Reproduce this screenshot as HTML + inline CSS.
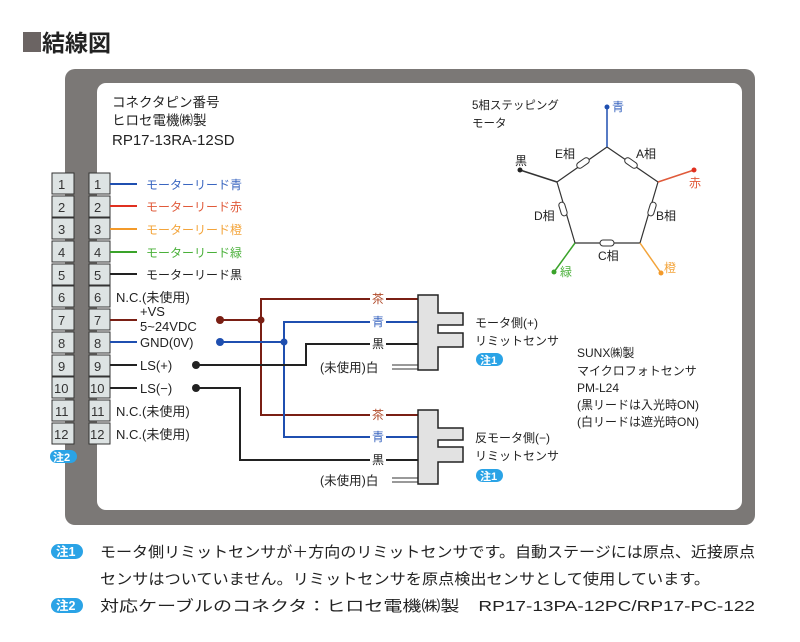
<!DOCTYPE html>
<html><head><meta charset="utf-8"><style>
html,body{margin:0;padding:0;background:#fff;}
svg{display:block;font-family:"Liberation Sans","Noto Sans CJK JP",sans-serif;}
</style></head><body>
<svg width="800" height="642" viewBox="0 0 800 642" xmlns="http://www.w3.org/2000/svg">
<rect x="0" y="0" width="800" height="642" fill="#fff"/>
<!-- title -->
<rect x="23" y="32" width="18" height="20" fill="#6b6463"/>
<text x="42" y="51" font-size="23" font-weight="bold" fill="#222">結線図</text>
<!-- frame -->
<rect x="65" y="69" width="690" height="456" rx="10" fill="#7b7876"/>
<rect x="97" y="83" width="645" height="427" rx="9" fill="#fff"/>
<!-- header -->
<g font-size="13.5" fill="#222">
<text x="112" y="107">コネクタピン番号</text>
<text x="112" y="125">ヒロセ電機㈱製</text>
<text x="112" y="145" font-size="15">RP17-13RA-12SD</text>
</g>
<!-- terminals -->
<g font-size="13" fill="#333" stroke="#333" stroke-width="1.2">
<g id="t">
</g>
</g>
<g font-size="13" fill="#333">
<!-- generated rows -->
<rect x="52" y="173" width="22" height="21" fill="#dde3e3" stroke="#333"/><text x="58" y="189">1</text><rect x="89" y="173" width="21" height="21" fill="#dde3e3" stroke="#333"/><text x="94" y="189">1</text>
<rect x="52" y="196" width="22" height="21" fill="#dde3e3" stroke="#333"/><text x="58" y="212">2</text><rect x="89" y="196" width="21" height="21" fill="#dde3e3" stroke="#333"/><text x="94" y="212">2</text>
<rect x="52" y="218" width="22" height="21" fill="#dde3e3" stroke="#333"/><text x="58" y="234">3</text><rect x="89" y="218" width="21" height="21" fill="#dde3e3" stroke="#333"/><text x="94" y="234">3</text>
<rect x="52" y="241" width="22" height="21" fill="#dde3e3" stroke="#333"/><text x="58" y="257">4</text><rect x="89" y="241" width="21" height="21" fill="#dde3e3" stroke="#333"/><text x="94" y="257">4</text>
<rect x="52" y="264" width="22" height="21" fill="#dde3e3" stroke="#333"/><text x="58" y="280">5</text><rect x="89" y="264" width="21" height="21" fill="#dde3e3" stroke="#333"/><text x="94" y="280">5</text>
<rect x="52" y="286" width="22" height="21" fill="#dde3e3" stroke="#333"/><text x="58" y="302">6</text><rect x="89" y="286" width="21" height="21" fill="#dde3e3" stroke="#333"/><text x="94" y="302">6</text>
<rect x="52" y="309" width="22" height="21" fill="#dde3e3" stroke="#333"/><text x="58" y="325">7</text><rect x="89" y="309" width="21" height="21" fill="#dde3e3" stroke="#333"/><text x="94" y="325">7</text>
<rect x="52" y="332" width="22" height="21" fill="#dde3e3" stroke="#333"/><text x="58" y="348">8</text><rect x="89" y="332" width="21" height="21" fill="#dde3e3" stroke="#333"/><text x="94" y="348">8</text>
<rect x="52" y="355" width="22" height="21" fill="#dde3e3" stroke="#333"/><text x="58" y="371">9</text><rect x="89" y="355" width="21" height="21" fill="#dde3e3" stroke="#333"/><text x="94" y="371">9</text>
<rect x="52" y="377" width="22" height="21" fill="#dde3e3" stroke="#333"/><text x="54" y="393">10</text><rect x="89" y="377" width="21" height="21" fill="#dde3e3" stroke="#333"/><text x="90" y="393">10</text>
<rect x="52" y="400" width="22" height="21" fill="#dde3e3" stroke="#333"/><text x="55" y="416">11</text><rect x="89" y="400" width="21" height="21" fill="#dde3e3" stroke="#333"/><text x="91" y="416">11</text>
<rect x="52" y="423" width="22" height="21" fill="#dde3e3" stroke="#333"/><text x="54" y="439">12</text><rect x="89" y="423" width="21" height="21" fill="#dde3e3" stroke="#333"/><text x="90" y="439">12</text>
</g>
<rect x="50" y="450" width="27" height="13" rx="6.5" fill="#2aa3e6"/><text x="53" y="461" font-size="11" fill="#fff" font-weight="bold">注2</text>
<!-- motor lead wires -->
<g stroke-width="2">
<line x1="110" y1="184" x2="137" y2="184" stroke="#1f4fb0"/>
<line x1="110" y1="206" x2="137" y2="206" stroke="#e03020"/>
<line x1="110" y1="229" x2="137" y2="229" stroke="#f39a2a"/>
<line x1="110" y1="252" x2="137" y2="252" stroke="#3aa32a"/>
<line x1="110" y1="274" x2="137" y2="274" stroke="#222"/>
</g>
<g font-size="12">
<text x="146" y="189" fill="#3a66c0">モーターリード青</text>
<text x="146" y="211" fill="#e05a3a">モーターリード赤</text>
<text x="146" y="234" fill="#f3a43a">モーターリード橙</text>
<text x="146" y="257" fill="#4ab03a">モーターリード緑</text>
<text x="146" y="279" fill="#222">モーターリード黒</text>
</g>
<g font-size="13" fill="#222">
<text x="116" y="302">N.C.(未使用)</text>
<text x="140" y="316">+VS</text>
<text x="140" y="331">5~24VDC</text>
<text x="140" y="347">GND(0V)</text>
<text x="140" y="370">LS(+)</text>
<text x="140" y="393">LS(−)</text>
<text x="116" y="416">N.C.(未使用)</text>
<text x="116" y="439">N.C.(未使用)</text>
</g>
<g stroke-width="2" fill="none">
<line x1="110" y1="320" x2="137" y2="320" stroke="#7a1f14"/>
<line x1="110" y1="342" x2="137" y2="342" stroke="#1f4fb0"/>
<line x1="110" y1="365" x2="137" y2="365" stroke="#222"/>
<line x1="110" y1="388" x2="137" y2="388" stroke="#222"/>
<!-- brown -->
<path d="M220 320 H261 M418 299 H261 V415 H418" stroke="#7a1f14"/>
<!-- blue -->
<path d="M220 342 H284 M418 322 H284 V437 H418" stroke="#1f4fb0"/>
<!-- black -->
<path d="M196 365 H306 V344 H418" stroke="#222"/>
<path d="M196 388 H240 V460 H418" stroke="#222"/>
<!-- white -->
<path d="M392 365 H418 M392 369 H418" stroke="#333" stroke-width="1"/>
<path d="M392 478 H418 M392 482 H418" stroke="#333" stroke-width="1"/>
</g>
<circle cx="220" cy="320" r="4" fill="#7a1f14"/><circle cx="261" cy="320" r="3.5" fill="#7a1f14"/>
<circle cx="220" cy="342" r="4" fill="#1f4fb0"/><circle cx="284" cy="342" r="3.5" fill="#1f4fb0"/>
<circle cx="196" cy="365" r="4" fill="#222"/><circle cx="196" cy="388" r="4" fill="#222"/>
<!-- wire labels -->
<g font-size="12">
<rect x="370" y="291" width="16" height="15" fill="#fff"/><text x="372" y="303" fill="#b04a2a">茶</text>
<rect x="370" y="314" width="16" height="15" fill="#fff"/><text x="372" y="326" fill="#3a66c0">青</text>
<rect x="370" y="336" width="16" height="15" fill="#fff"/><text x="372" y="348" fill="#222">黒</text>
<text x="320" y="372" fill="#222" font-size="12.5">(未使用)白</text>
<rect x="370" y="407" width="16" height="15" fill="#fff"/><text x="372" y="419" fill="#b04a2a">茶</text>
<rect x="370" y="429" width="16" height="15" fill="#fff"/><text x="372" y="441" fill="#3a66c0">青</text>
<rect x="370" y="452" width="16" height="15" fill="#fff"/><text x="372" y="464" fill="#222">黒</text>
<text x="320" y="485" fill="#222" font-size="12.5">(未使用)白</text>
</g>
<!-- connectors -->
<path d="M418 295 H438 V313 H463 V325 H438 V333 H463 V347 H438 V370 H418 Z" fill="#e2e2e2" stroke="#222" stroke-width="1.5"/>
<path d="M418 410 H438 V428 H463 V440 H438 V447 H463 V462 H438 V484 H418 Z" fill="#e2e2e2" stroke="#222" stroke-width="1.5"/>
<g font-size="12" fill="#222">
<text x="475" y="327">モータ側(+)</text>
<text x="475" y="345">リミットセンサ</text>
<text x="475" y="442">反モータ側(−)</text>
<text x="475" y="460">リミットセンサ</text>
</g>
<rect x="476" y="353" width="27" height="13" rx="6.5" fill="#2aa3e6"/><text x="480" y="364" font-size="11" fill="#fff" font-weight="bold">注1</text>
<rect x="476" y="469" width="27" height="13" rx="6.5" fill="#2aa3e6"/><text x="480" y="480" font-size="11" fill="#fff" font-weight="bold">注1</text>
<g font-size="12" fill="#222">
<text x="577" y="357">SUNX㈱製</text>
<text x="577" y="375">マイクロフォトセンサ</text>
<text x="577" y="392">PM-L24</text>
<text x="577" y="409">(黒リードは入光時ON)</text>
<text x="577" y="426">(白リードは遮光時ON)</text>
</g>
<!-- motor -->
<g font-size="11.5" fill="#222">
<text x="472" y="109">5相ステッピング</text>
<text x="472" y="127">モータ</text>
</g>
<polygon points="607,147 658,182 640,243 575,243 557,182" fill="none" stroke="#333" stroke-width="1.2"/>
<line x1="607" y1="147" x2="607" y2="107" stroke="#1f4fb0" stroke-width="1.5"/><circle cx="607" cy="107" r="2.5" fill="#1f4fb0"/>
<line x1="658" y1="182" x2="694" y2="170" stroke="#e05a3a" stroke-width="1.5"/><circle cx="694" cy="170" r="2.5" fill="#e03020"/>
<line x1="640" y1="243" x2="661" y2="273" stroke="#f3a43a" stroke-width="1.5"/><circle cx="661" cy="273" r="2.5" fill="#f39a2a"/>
<line x1="575" y1="243" x2="554" y2="272" stroke="#3aa32a" stroke-width="1.5"/><circle cx="554" cy="272" r="2.5" fill="#3aa32a"/>
<line x1="557" y1="182" x2="520" y2="170" stroke="#333" stroke-width="1.5"/><circle cx="520" cy="170" r="2.5" fill="#222"/>
<g fill="#fff" stroke="#333" stroke-width="1">
<rect x="576" y="160" width="14" height="6" rx="3" transform="rotate(-35 583 163)"/>
<rect x="624" y="160" width="14" height="6" rx="3" transform="rotate(35 631 163)"/>
<rect x="645" y="206" width="14" height="6" rx="3" transform="rotate(-73 652 209)"/>
<rect x="600" y="240" width="14" height="6" rx="3"/>
<rect x="556" y="206" width="14" height="6" rx="3" transform="rotate(73 563 209)"/>
</g>
<g font-size="12" fill="#222">
<text x="555" y="158">E相</text>
<text x="636" y="158">A相</text>
<text x="656" y="220">B相</text>
<text x="598" y="260">C相</text>
<text x="534" y="220">D相</text>
<text x="612" y="111" fill="#3a66c0">青</text>
<text x="689" y="187" fill="#e05a3a">赤</text>
<text x="664" y="272" fill="#f3a43a">橙</text>
<text x="560" y="276" fill="#4ab03a">緑</text>
<text x="515" y="165">黒</text>
</g>
<!-- notes -->
<rect x="51" y="544" width="32" height="15" rx="7.5" fill="#2aa3e6"/><text x="56" y="556" font-size="12.5" fill="#fff" font-weight="bold">注1</text>
<rect x="51" y="598" width="32" height="15" rx="7.5" fill="#2aa3e6"/><text x="56" y="610" font-size="12.5" fill="#fff" font-weight="bold">注2</text>
<g font-size="15" fill="#222">
<text x="100" y="557" textLength="655" lengthAdjust="spacingAndGlyphs">モータ側リミットセンサが＋方向のリミットセンサです。自動ステージには原点、近接原点</text>
<text x="100" y="584" textLength="610" lengthAdjust="spacingAndGlyphs">センサはついていません。リミットセンサを原点検出センサとして使用しています。</text>
<text x="100" y="611" textLength="655" lengthAdjust="spacingAndGlyphs">対応ケーブルのコネクタ：ヒロセ電機㈱製　RP17-13PA-12PC/RP17-PC-122</text>
</g>
</svg>
</body></html>
